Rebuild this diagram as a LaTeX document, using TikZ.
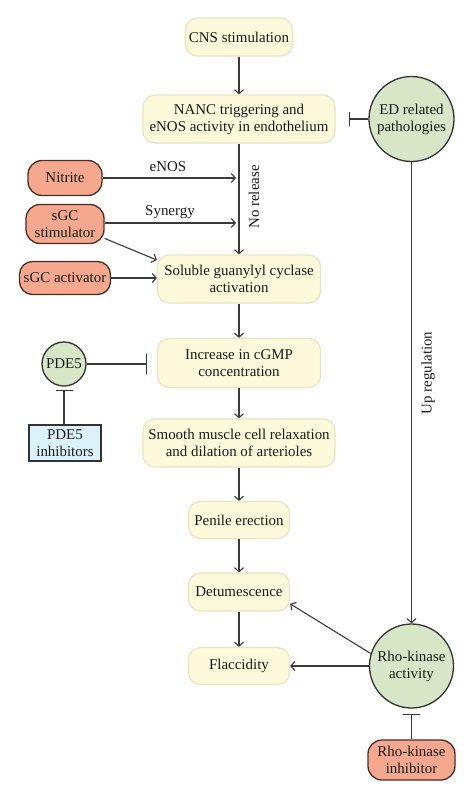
\documentclass[tikz,border=0pt]{standalone}
\usepackage{fontspec}
\setmainfont{Liberation Serif}
\usetikzlibrary{arrows.meta}
\definecolor{yelfill}{HTML}{FCFADA}
\definecolor{yelline}{HTML}{E6E4C2}
\definecolor{orafill}{HTML}{F5A88D}
\definecolor{oraline}{HTML}{4A2E26}
\definecolor{grnfill}{HTML}{D6E6C6}
\definecolor{blufill}{HTML}{DCF2FA}
\definecolor{darkline}{HTML}{333333}
\definecolor{linec}{HTML}{3A3A3A}
\definecolor{txt}{HTML}{1A1A1A}
\begin{document}
\begin{tikzpicture}[x=1bp,y=-1bp,
  every node/.style={font=\fontsize{15}{17}\selectfont, text=txt, align=center, inner sep=0pt},
  yel/.style={rounded corners=12bp, fill=yelfill, draw=yelline, line width=1.2bp},
  ora/.style={rounded corners=14bp, fill=orafill, draw=oraline, line width=1.3bp},
  grn/.style={circle, fill=grnfill, draw=darkline, line width=1.3bp},
  blu/.style={rectangle, fill=blufill, draw=darkline, line width=1.2bp},
  arr/.style={draw=linec, line width=1.1bp, -{Straight Barb[length=4bp,width=9bp]}},
  inh/.style={draw=linec, line width=1.1bp, -{Bar[width=#1]}},
  inh/.default=15bp
]
\useasboundingbox (0,0) rectangle (474,799);

% main column
\node[yel, minimum width=107bp, minimum height=38bp] (cns) at (239,37) {CNS stimulation};
\node[yel, minimum width=192bp, minimum height=48bp] (nanc) at (239,119) {NANC triggering and\\eNOS activity in endothelium};
\node[yel, minimum width=163bp, minimum height=48bp] (sol) at (239,279) {Soluble guanylyl cyclase\\activation};
\node[yel, minimum width=163bp, minimum height=49bp] (cgmp) at (239,363) {Increase in cGMP\\concentration};
\node[yel, minimum width=192bp, minimum height=48bp] (smooth) at (239,443) {Smooth muscle cell relaxation\\and dilation of arterioles};
\node[yel, minimum width=101bp, minimum height=37bp] (pen) at (239,520) {Penile erection};
\node[yel, minimum width=101bp, minimum height=38bp] (det) at (239,592) {Detumescence};
\node[yel, minimum width=101bp, minimum height=37bp] (fla) at (239,666) {Flaccidity};

% left column
\node[ora, minimum width=74bp, minimum height=35bp] (nit) at (65,178) {Nitrite};
\node[ora, minimum width=78bp, minimum height=39bp] (sgcs) at (65,224) {sGC\\stimulator};
\node[ora, minimum width=91bp, minimum height=33bp, rounded corners=13bp] (sgca) at (65,278) {sGC activator};
\node[grn, minimum size=44bp] (pde) at (64,364) {PDE5};
\node[blu, minimum width=72bp, minimum height=36bp] (pdei) at (65,443) {PDE5\\inhibitors};

% right column
\node[grn, minimum size=85bp] (ed) at (411.5,119) {ED related\\pathologies};
\node[grn, minimum size=84bp] (rho) at (411.5,666) {Rho-kinase\\activity};
\node[ora, minimum width=87bp, minimum height=40bp] (rhoi) at (411.5,760) {Rho-kinase\\inhibitor};

% labels
\node (lenos) at (168,167) {eNOS};
\node (lsyn) at (170,212) {Synergy};
\node[rotate=90] (lnorel) at (254,197) {No release};
\node[rotate=90] (lup) at (428,373) {Up regulation};

% free ends
\coordinate (nitend) at (236,178);
\coordinate (sgcsend) at (236,223);
\coordinate (edbar) at (349,119);
\coordinate (pdebar) at (147,364);
\coordinate (pdeibar) at (64,390);
\coordinate (rhoibar) at (411.5,714);

% main arrows
\draw[arr] (cns.south) -- (nanc.north);
\draw[arr] (nanc.south) -- (sol.north);
\draw[arr] (sol.south) -- (cgmp.north);
\draw[arr] (cgmp.south) -- (smooth.north);
\draw[arr] (smooth.south) -- (pen.north);
\draw[arr] (pen.south) -- (det.north);
\draw[arr] (det.south) -- (fla.north);

% left arrows
\draw[arr] (nit.east) -- (nitend);
\draw[arr] (sgcs.east |- sgcsend) -- (sgcsend);
\draw[arr] (sgcs.-20) -- (sol.167);
\draw[arr] (sgca.east) -- (sgca.east -| sol.west);

% inhibitions
\draw[inh=14bp] (ed.west) -- (edbar);
\draw[inh=20bp] (pde.east) -- (pdebar);
\draw[inh=17bp] (pdei.north -| pdeibar) -- (pdeibar);
\draw[inh=17bp] (rhoi.north) -- (rhoibar);

% right arrows
\draw[arr] (ed.south) -- (rho.north);
\draw[arr] (rho.163) -- (det.-13);
\draw[arr] (rho.west) -- (rho.west -| fla.east);
\end{tikzpicture}
\end{document}
